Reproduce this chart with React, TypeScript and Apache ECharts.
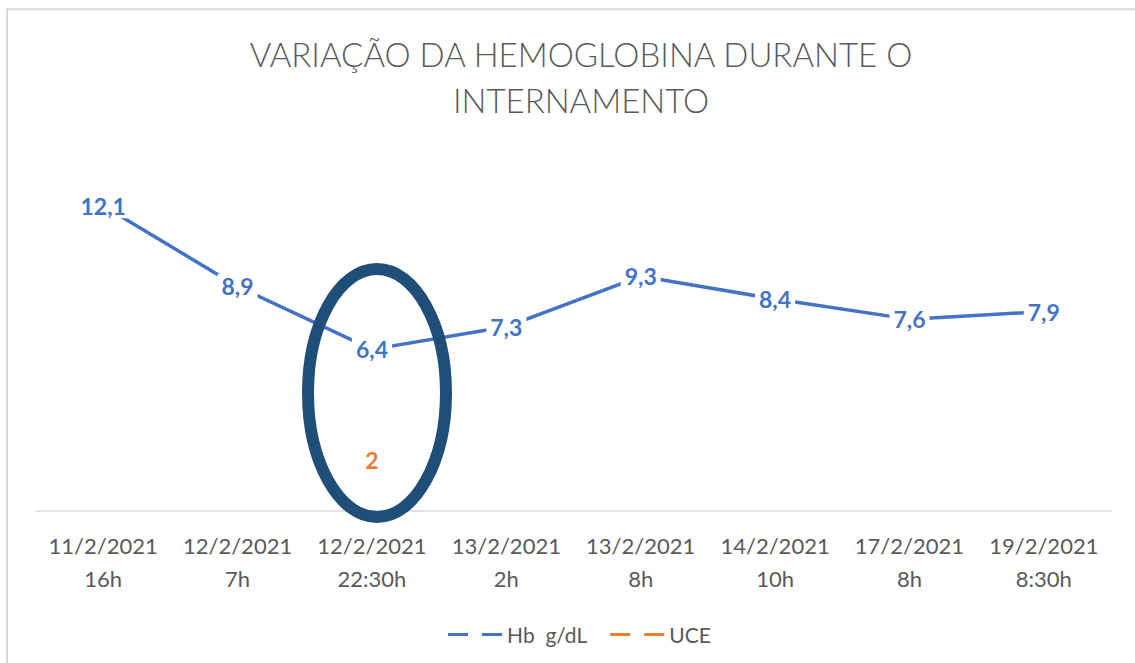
import React, { useEffect, useRef } from "react";
import * as echarts from "echarts";

const categories = [
  "11/2/2021\n16h",
  "12/2/2021\n7h",
  "12/2/2021\n22:30h",
  "13/2/2021\n2h",
  "13/2/2021\n8h",
  "14/2/2021\n10h",
  "17/2/2021\n8h",
  "19/2/2021\n8:30h",
];
const hbValues = [12.1, 8.9, 6.4, 7.3, 9.3, 8.4, 7.6, 7.9];
const uceValues: (number | null)[] = [null, null, 2, null, null, null, null, null];
const seriesNames = ["Hb  g/dL", "UCE"];
const titleText = "VARIAÇÃO DA HEMOGLOBINA DURANTE O\nINTERNAMENTO";

const FONT = "Lato, 'Open Sans', sans-serif";
const fmt = (p: any) => String(p.value).replace(".", ",");

export default function App() {
  const ref = useRef<HTMLDivElement>(null);
  useEffect(() => {
    if (!ref.current) return;
    const chart = echarts.init(ref.current, null, { renderer: "svg" });
    const dashIcon = "path://M0,0H20V3H0Z M34,0H54V3H34Z";
    chart.setOption({
      animation: false,
      backgroundColor: "#ffffff",
      title: {
        text: titleText,
        left: 576,
        top: 26,
        textAlign: "center",
        textStyle: {
          fontFamily: FONT,
          fontSize: 33,
          fontWeight: 300,
          color: "#595959",
          lineHeight: 46,
        },
      },
      legend: {
        left: 443,
        top: 619,
        itemWidth: 54,
        itemHeight: 3,
        itemGap: 23,
        textStyle: { fontFamily: FONT, fontSize: 21, color: "#595959" },
        data: [
          { name: seriesNames[0], icon: dashIcon, itemStyle: { color: "#4472C4" } },
          { name: seriesNames[1], icon: dashIcon, itemStyle: { color: "#ED7D31" } },
        ],
      },
      grid: { left: 36, right: 24, top: 158, bottom: 152.5, containLabel: false },
      xAxis: {
        type: "category",
        data: categories,
        boundaryGap: true,
        axisLine: { lineStyle: { color: "#d9d9d9", width: 1.5 } },
        axisTick: { show: false },
        axisLabel: {
          fontFamily: FONT,
          fontSize: 22,
          color: "#595959",
          lineHeight: 33,
          margin: 18,
          interval: 0,
        },
      },
      yAxis: {
        type: "value",
        min: 0,
        max: 14,
        show: false,
        splitLine: { show: false },
      },
      series: [
        {
          name: seriesNames[0],
          type: "line",
          data: hbValues,
          symbol: "circle",
          symbolSize: 1,
          itemStyle: { color: "#4472C4", opacity: 1, borderWidth: 0 },
          lineStyle: { color: "#4472C4", width: 3.5 },
          label: {
            show: true,
            position: "inside",
            formatter: fmt,
            fontFamily: FONT,
            fontSize: 23,
            fontWeight: "bold",
            color: "#4472C4",
            backgroundColor: "#ffffff",
            padding: [1, 4],
          },
          z: 3,
        },
        {
          name: seriesNames[1],
          type: "line",
          data: uceValues,
          symbol: "circle",
          symbolSize: 1,
          connectNulls: false,
          itemStyle: { color: "#ED7D31", borderWidth: 0 },
          lineStyle: { color: "#ED7D31", width: 3.5 },
          label: {
            show: true,
            position: "inside",
            formatter: fmt,
            fontFamily: FONT,
            fontSize: 23,
            fontWeight: "bold",
            color: "#ED7D31",
            backgroundColor: "#ffffff",
            padding: [1, 4],
          },
          z: 3,
        },
      ],
      graphic: [
        {
          type: "rect",
          shape: { x: 7, y: 9.3, width: 1200, height: 700 },
          style: { fill: "none", stroke: "#d9d9d9", lineWidth: 2 },
          silent: true,
          z: 0,
        },
        {
          type: "ellipse",
          shape: { cx: 377, cy: 393, rx: 69, ry: 124 },
          style: { fill: "none", stroke: "#1F4E79", lineWidth: 12 },
          silent: true,
          z: 100,
        },
      ],
    });
    return () => chart.dispose();
  }, []);
  return (
    <div
      ref={ref}
      style={{ position: "fixed", left: 0, top: 0, width: 1135, height: 663 }}
    />
  );
}
